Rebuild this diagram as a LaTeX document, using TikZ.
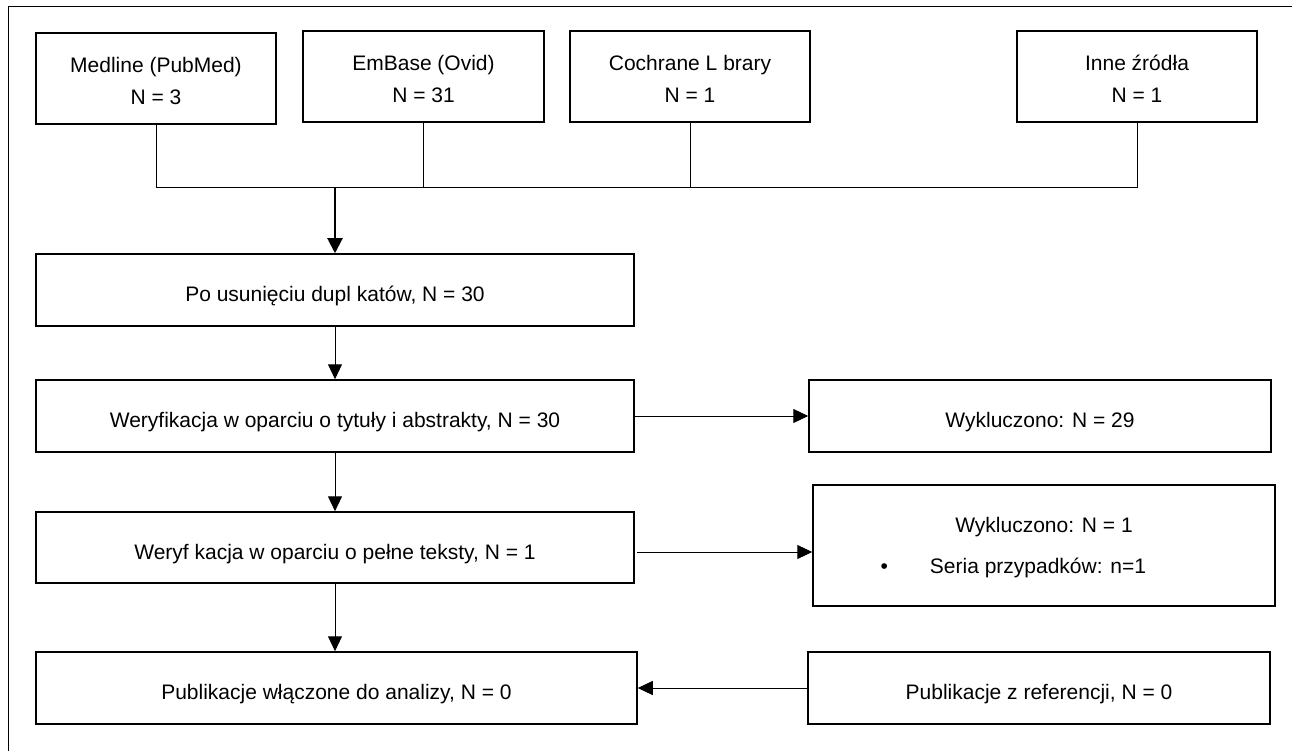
\documentclass[tikz,border=0pt]{standalone}
\usepackage{fontspec}
\setmainfont{Liberation Sans}
\usetikzlibrary{arrows.meta}
\newcommand\twoline[3]{\vtop{\baselineskip=#3\lineskiplimit=-100pt\halign{\hfil##\hfil\cr#1\cr#2\cr}}}
\tikzset{
  box/.style={draw, line width=1.5pt, inner sep=0pt, font=\fontsize{21}{25}\selectfont},
  one/.style={box, text height=23pt, text depth=0pt},
  two/.style={box, text height=10pt, text depth=22pt},
  conn/.style={line width=1pt},
  arr/.style={line width=1pt, -{Triangle[length=15pt,width=14pt]}},
  boldarr/.style={line width=2pt, -{Triangle[length=15pt,width=15pt]}}
}
\begin{document}
\begin{tikzpicture}[x=1pt,y=-1pt]
\useasboundingbox (0,0) rectangle (1292,751);
\fill[white] (0,0) rectangle (1292,751);
\begin{scope}
  \clip (0,0) rectangle (1292,751);
  \draw[line width=1pt] (8,7) rectangle (1300,760);
\end{scope}
% sources
\node[two, minimum width=240pt, minimum height=91pt] (med) at (156,78.5) {\twoline{Medline (PubMed)}{N = 3}{32.5pt}};
\node[two, minimum width=241pt, minimum height=91pt] (emb) at (423.5,76.5) {\twoline{EmBase (Ovid)}{N = 31}{32.5pt}};
\node[two, minimum width=240pt, minimum height=91pt] (coc) at (690,76.5) {\twoline{Cochrane L brary}{N = 1}{32.5pt}};
\node[two, minimum width=240pt, minimum height=91pt] (inne) at (1137,76.5) {\twoline{Inne źródła}{N = 1}{32.5pt}};
% main column
\node[one, minimum width=598pt, minimum height=72pt] (po) at (335,290) {Po usunięciu dupl katów, N = 30};
\node[one, minimum width=598pt, minimum height=72pt] (wer) at (335,416) {Weryfikacja w oparciu o tytuły i abstrakty, N = 30};
\node[one, minimum width=462pt, minimum height=72pt] (exc1) at (1040,416) {Wykluczono: N = 29};
\node[one, minimum width=598pt, minimum height=71pt] (pel) at (335,547.5) {Weryf kacja w oparciu o pełne teksty, N = 1};
\node[box, text height=10pt, text depth=37pt, minimum width=462pt, minimum height=121pt] (exc2) at (1044,545.5)
  {\twoline{Wykluczono: N = 1}{\llap{•\kern42pt}Seria przypadków: n=1\kern12pt}{41pt}};
\node[one, minimum width=601pt, minimum height=72pt] (pub) at (336.5,688) {Publikacje włączone do analizy, N = 0};
\node[one, minimum width=462pt, minimum height=72pt] (ref) at (1039,688) {Publikacje z referencji, N = 0};
% connectors
\coordinate (hl) at (156,188);
\coordinate (hr) at (1137,188);
\draw[conn] (med.south) -- (hl) -- (hr) -- (inne.south);
\draw[conn] (emb.south) -- (emb.south |- hl);
\draw[conn] (coc.south) -- (coc.south |- hl);
\draw[boldarr] (po.north |- hl) -- (po.north);
\draw[arr] (po.south) -- (wer.north);
\draw[arr] (wer.east) -- (exc1.west);
\draw[arr] (wer.south) -- (pel.north);
\coordinate (e2) at (637,552);
\draw[arr] (e2) -- (exc2.west |- e2);
\draw[arr] (pel.south) -- (pel.south |- pub.north);
\draw[arr] (ref.west) -- (pub.east);
\end{tikzpicture}
\end{document}
